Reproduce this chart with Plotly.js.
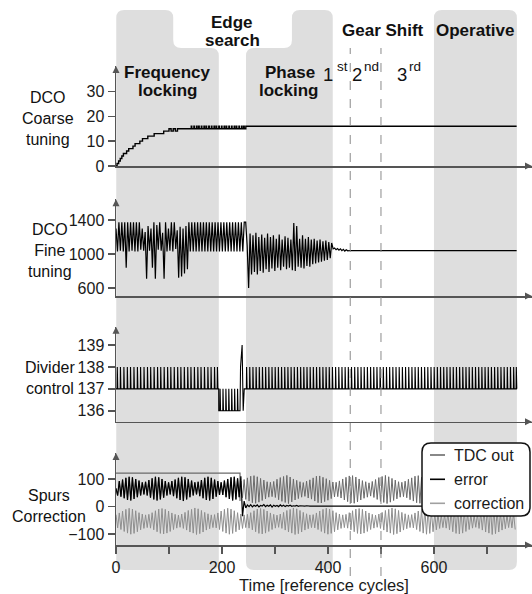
<!DOCTYPE html>
<html><head><meta charset="utf-8">
<script src="https://cdn.plot.ly/plotly-3.0.1.min.js"></script>
<style>html,body{margin:0;padding:0;background:#fff}#chart{width:532px;height:594px}</style>
</head><body><div id="chart"></div>
<script>
// ---------------- DATA ----------------
// Panel 1: DCO coarse tuning (staircase)
const coarseX = [0,2,5,8,11,14,17,20,24,28,32,36,40,45,50,55,60,66,72,78,84,90,96,100,104,108,112,116,120,126,245,756];
const coarseY = [0,1,2,3,4,5,5,6,7,7,8,9,9,10,11,11,12,12,13,13,13,14,14,15,14,15,14,15,15,15,16,16];
const coarseSpikeX = [142,147,152,156,161,166,170,175,180,185,189,194,199,204,208,213,218,223,227,232,237,241];

// Panel 2: DCO fine tuning, sampled every fineStep cycles
const fineStep = 2.75;
const fineVals = [
 1300,1030,1375,1040,1375,1030,1375,840,1375,1030,
 1375,1040,1375,1030,1375,1030,1375,1050,1300,1040,
 1260,710,1330,1040,1300,840,1375,710,1340,1050,
 1375,1040,1250,710,1375,1030,1300,1040,1375,1030,
 1375,1060,1280,720,1320,735,1300,770,1330,820,
 1375,1030,1375,1030,1375,1030,1375,1030,1375,1030,
 1375,1030,1375,1030,1375,1030,1375,1030,1375,1030,
 1375,1030,1375,1030,1375,1030,1375,1030,1375,1030,
 1375,1030,1375,1030,1375,1030,1375,1030,1375,1375,
 1100,600,1240,760,1220,790,1250,760,1200,800,
 1230,780,1190,820,1240,790,1200,830,1220,800,
 1180,840,1230,810,1170,850,1210,820,1190,840,
 1170,810,1365,800,1330,850,1180,840,1220,830,
 1180,860,1200,850,1170,880,1180,890,1160,900,
 1170,910,1150,920,1160,930,1140,950,1130,1060,
 1070,1050,1065,1045,1060,1040,1055,1035,1050,1038,
 1040];
const fineTailX = [756];
const fineTailY = [1040];

// Panel 3: divider control (pulse trains: baseline -> peak)
const divSpikeA = [2,8,14.5,21,27,33.5,40,46,52.5,59,65,71.5,78,84,90.5,97,103,109.5,116,122,128.5,135,141,147.5,154,160,166.5,173,179,185.5,191];
const divBaseA = 137, divPeakA = 138;
const divSpikeB = [196,201.5,207,212.5,218,223.5,229];
const divBaseB = 136, divPeakB = 137;
const divEventX = [234,235,238,240,242];
const divEventY = [136,138,139,136,137];
const divSpikeC = [246,252,258,264,270,276,282,288,294,300,306,312,318,324,330,336,342,348,354,360,366,372,378,384,390,396,402,408,414,420,426,432,438,444,450,456,462,468,474,480,486,492,498,504,510,516,522,528,534,540,546,552,558,564,570,576,582,588,594,600,606,612,618,624,630,636,642,648,654,660,666,672,678,684,690,696,702,708,714,720,726,732,738,744,750,755];
const divBaseC = 137, divPeakC = 138;

// Panel 4: spurs correction, sampled every spursStep cycles
const spursStep = 3.1;
const tdcVals = [
 66,40,92,36,98,30,104,24,108,22,106,28,100,34,94,40,88,44,90,40,
 96,32,102,26,108,22,106,26,100,32,92,40,88,44,92,38,98,30,104,24,
 108,20,106,26,100,34,94,40,88,44,90,38,96,30,104,24,108,22,104,28,
 98,36,92,42,88,42,94,34,100,28,106,22,108,26,102,34,
 92,32,98,26,104,20,110,14,112,12,108,16,102,22,96,28,90,34,88,36,
 91,33,99,25,105,19,109,15,113,11,107,17,100,24,95,29,90,34,87,37,
 92,31,97,27,104,20,110,14,111,13,106,18,101,23,95,29,89,35,88,36,
 93,31,100,24,106,18,111,13,112,12,107,17,100,24,94,30,90,34,86,38,
 91,33,98,26,105,19,109,15,113,11,108,16,102,22,96,28,90,34,88,36,
 92,32,99,25,104,20,110,14,112,12,106,18,101,23,95,29,89,35,87,37,
 93,31,98,26,105,19,111,13,112,12,107,17,100,24,94,30,90,34,88,36,
 91,33,97,27,104,20,110,14,113,11,108,16,102,22,96,28,90,34,87,37,
 92,32,99,25,105,19,110,14];
const errLockedVals = [110,-35,20,-5,6,0,7,-1,5,1,6,-1,4,2,7,0,5,1,6,-2,5,1,4,0,6,1,5,0,4,2,5,1,3,2,4,1,3,2,3,2,3,2];
const errTailX = [366,756];
const errTailY = [2,2];
const corrVals = [
 -29,-77,-23,-83,-16,-90,-10,-96,-6,-100,-9,-97,-15,-91,-22,-84,-27,-79,-30,-76,
 -28,-78,-22,-84,-15,-91,-9,-97,-7,-99,-10,-96,-16,-90,-23,-83,-28,-78,-31,-75,
 -27,-79,-21,-85,-14,-92,-10,-96,-5,-101,-8,-98,-14,-92,-21,-85,-26,-80,-30,-76,
 -29,-77,-23,-83,-16,-90,-10,-96,-6,-100,-9,-97,-15,-91,-22,-84,-27,-79,-30,-76,
 -28,-78,-22,-84,-15,-91,-9,-97,-7,-99,-10,-96,-16,-90,-23,-83,-28,-78,-31,-75,
 -27,-79,-21,-85,-14,-92,-10,-96,-5,-101,-8,-98,-14,-92,-21,-85,-26,-80,-30,-76,
 -29,-77,-23,-83,-16,-90,-10,-96,-6,-100,-9,-97,-15,-91,-22,-84,-27,-79,-30,-76,
 -28,-78,-22,-84,-15,-91,-9,-97,-7,-99,-10,-96,-16,-90,-23,-83,-28,-78,-31,-75,
 -27,-79,-21,-85,-14,-92,-10,-96,-5,-101,-8,-98,-14,-92,-21,-85,-26,-80,-30,-76,
 -29,-77,-23,-83,-16,-90,-10,-96,-6,-100,-9,-97,-15,-91,-22,-84,-27,-79,-30,-76,
 -28,-78,-22,-84,-15,-91,-9,-97,-7,-99,-10,-96,-16,-90,-23,-83,-28,-78,-31,-75,
 -27,-79,-21,-85,-14,-92,-10,-96,-5,-101,-8,-98,-14,-92,-21,-85,-26,-80,-30,-76,
 -29,-77,-23,-83];
const tdcRangeX = [0,234,234];
const tdcRangeY = [121,121,20];
const errorSharedCount = 76; // before phase locking, error equals TDC output

const legendNames = ['TDC out','error','correction'];
const xTickVals = [0,200,400,600];
const xMinorTickVals = [100,300,500,700];
const gearNums = ['1','2','3'];
const gearSups = ['st','nd','rd'];

// ---------------- BUILD ----------------
const F = 'Liberation Sans, Arial, Helvetica, sans-serif';
const H = 545, L = 116, W = 416;
const px = x => (x - L) / W;
const py = y => (H - y) / H;

// coarse
let cPts = coarseX.map((x,i)=>[x, coarseY[i]]);
coarseSpikeX.forEach(s=>{cPts.push([s,16]); cPts.push([s+1,15]);});
cPts.sort((a,b)=>a[0]-b[0]);
const coarseTrace = {x:cPts.map(p=>p[0]), y:cPts.map(p=>p[1]), xaxis:'x', yaxis:'y', type:'scatter', mode:'lines',
  line:{color:'#000', width:1.4, shape:'hv'}, name:'DCO coarse tuning', showlegend:false};

// fine
const fineX = fineVals.map((v,i)=>i*fineStep).concat(fineTailX);
const fineY = fineVals.concat(fineTailY);
const fineTrace = {x:fineX, y:fineY, xaxis:'x2', yaxis:'y2', type:'scatter', mode:'lines',
  line:{color:'#000', width:1.2}, name:'DCO fine tuning', showlegend:false};

// divider
let dX=[0], dY=[divBaseA];
function addSpikes(list, base, peak){ list.forEach(s=>{ dX.push(s, s+0.4, s+1.3); dY.push(base, peak, base); }); }
addSpikes(divSpikeA, divBaseA, divPeakA);
dX.push(193.8, 193.9); dY.push(divBaseA, divBaseB);
addSpikes(divSpikeB, divBaseB, divPeakB);
divEventX.forEach((x,i)=>{dX.push(x); dY.push(divEventY[i]);});
addSpikes(divSpikeC, divBaseC, divPeakC);
dX.push(756.5); dY.push(divBaseC);
const divTrace = {x:dX, y:dY, xaxis:'x3', yaxis:'y3', type:'scatter', mode:'lines',
  line:{color:'#000', width:1.1}, name:'Divider control', showlegend:false};

// spurs
const tdcX = tdcVals.map((v,i)=>i*spursStep);
const corrX = corrVals.map((v,i)=>i*spursStep);
const errVals = tdcVals.slice(0, errorSharedCount).concat(errLockedVals);
const errX = errVals.map((v,i)=>i*spursStep).concat(errTailX);
const errY = errVals.concat(errTailY);
const colTDC = '#6a6a6a', colCorr = '#8e8e8e';
const tdcTrace = {x:tdcX, y:tdcVals, xaxis:'x4', yaxis:'y4', type:'scatter', mode:'lines', line:{color:colTDC, width:1}, name:legendNames[0], showlegend:false};
const tdcRangeTrace = {x:tdcRangeX, y:tdcRangeY, xaxis:'x4', yaxis:'y4', type:'scatter', mode:'lines', line:{color:colTDC, width:1.2}, showlegend:false, hoverinfo:'skip'};
const corrTrace = {x:corrX, y:corrVals, xaxis:'x4', yaxis:'y4', type:'scatter', mode:'lines', line:{color:colCorr, width:1}, name:legendNames[2], showlegend:false};
const errTrace = {x:errX, y:errY, xaxis:'x4', yaxis:'y4', type:'scatter', mode:'lines', line:{color:'#000', width:1.2}, name:legendNames[1], showlegend:false};

const axLine = {showline:true, linecolor:'#555', linewidth:1.5, showgrid:false, zeroline:false, fixedrange:true,
  tickfont:{family:F, size:16, color:'#1a1a1a'}, ticks:'outside', ticklen:7, tickwidth:1.5, tickcolor:'#555'};
const xr = [0,785];
const yR = [[0,40.2],[506,1644],[135.5,139.84],[-139,194]];
const yDom = [[py(166), py(66)], [py(296), py(199.3)], [py(421.7), py(326.7)], [0, py(453)]];

const layout = {
  width:532, height:594, margin:{l:L, r:0, t:0, b:49},
  paper_bgcolor:'#fff', plot_bgcolor:'rgba(0,0,0,0)', showlegend:false,
  font:{family:F, color:'#1a1a1a'},
  xaxis: Object.assign({}, axLine, {domain:[0,1], range:xr, anchor:'y', ticks:'', showticklabels:false}),
  xaxis2: Object.assign({}, axLine, {domain:[0,1], range:xr, anchor:'y2', ticks:'', showticklabels:false, matches:'x'}),
  xaxis3: Object.assign({}, axLine, {domain:[0,1], range:xr, anchor:'y3', ticks:'', showticklabels:false, matches:'x'}),
  xaxis4: Object.assign({}, axLine, {domain:[0,1], range:xr, anchor:'y4', matches:'x', tickmode:'array', tickvals:xTickVals,
     minor:{tickmode:'array', tickvals:xMinorTickVals, ticks:'outside', ticklen:7, tickwidth:1.5, tickcolor:'#555', showgrid:false},
     title:{text:'Time [reference cycles]', font:{family:F, size:16.5, color:'#1a1a1a'}, standoff:4}}),
  yaxis: Object.assign({}, axLine, {domain:yDom[0], range:yR[0], anchor:'x', tickvals:[0,10,20,30]}),
  yaxis2: Object.assign({}, axLine, {domain:yDom[1], range:yR[1], anchor:'x2', tickvals:[600,1000,1400]}),
  yaxis3: Object.assign({}, axLine, {domain:yDom[2], range:yR[2], anchor:'x3', tickvals:[136,137,138,139]}),
  yaxis4: Object.assign({}, axLine, {domain:yDom[3], range:yR[3], anchor:'x4', tickvals:[-100,0,100]}),
  shapes:[], annotations:[]
};

// gray phase regions (rounded)
const yt = py(10), ys = py(48), yb = py(570), rx = 15, ry = 8/H;
function f(v){return (+v).toFixed(5);}
function regionTallLeft(x0, xs, x2){
  return `M${f(x0)},${f(yb+ry)} L${f(x0)},${f(yt-ry)} Q${f(x0)},${f(yt)} ${f(x0+rx)},${f(yt)} L${f(xs-rx)},${f(yt)} Q${f(xs)},${f(yt)} ${f(xs)},${f(yt-ry)} L${f(xs)},${f(ys+ry)} Q${f(xs)},${f(ys)} ${f(xs+rx)},${f(ys)} L${f(x2-rx)},${f(ys)} Q${f(x2)},${f(ys)} ${f(x2)},${f(ys-ry)} L${f(x2)},${f(yb+ry)} Q${f(x2)},${f(yb)} ${f(x2-rx)},${f(yb)} L${f(x0+rx)},${f(yb)} Q${f(x0)},${f(yb)} ${f(x0)},${f(yb+ry)} Z`;
}
function regionTallRight(x0, xs, x2){
  return `M${f(x0)},${f(yb+ry)} L${f(x0)},${f(ys-ry)} Q${f(x0)},${f(ys)} ${f(x0+rx)},${f(ys)} L${f(xs-rx)},${f(ys)} Q${f(xs)},${f(ys)} ${f(xs)},${f(ys+ry)} L${f(xs)},${f(yt-ry)} Q${f(xs)},${f(yt)} ${f(xs+rx)},${f(yt)} L${f(x2-rx)},${f(yt)} Q${f(x2)},${f(yt)} ${f(x2)},${f(yt-ry)} L${f(x2)},${f(yb+ry)} Q${f(x2)},${f(yb)} ${f(x2-rx)},${f(yb)} L${f(x0+rx)},${f(yb)} Q${f(x0)},${f(yb)} ${f(x0)},${f(yb+ry)} Z`;
}
function regionRect(x0, x2){
  return `M${f(x0)},${f(yb+ry)} L${f(x0)},${f(yt-ry)} Q${f(x0)},${f(yt)} ${f(x0+rx)},${f(yt)} L${f(x2-rx)},${f(yt)} Q${f(x2)},${f(yt)} ${f(x2)},${f(yt-ry)} L${f(x2)},${f(yb+ry)} Q${f(x2)},${f(yb)} ${f(x2-rx)},${f(yb)} L${f(x0+rx)},${f(yb)} Q${f(x0)},${f(yb)} ${f(x0)},${f(yb+ry)} Z`;
}
const gray = '#dedede';
[regionTallLeft(0.5,108,194), regionTallRight(245.3,332,409), regionRect(600,756.5)].forEach(p=>{
  layout.shapes.push({type:'path', path:p, xref:'x', yref:'paper', fillcolor:gray, line:{width:0}, layer:'below'});
});
// gear-shift dashed lines
[442,500].forEach(x=>layout.shapes.push({type:'line', xref:'x', yref:'paper', x0:x, x1:x, y0:py(576), y1:py(48),
  line:{color:'#8a8a8a', width:1, dash:'dash'}, layer:'above'}));

// axis arrowheads (pixel-sized triangles)
['','2','3','4'].forEach((k,i)=>{
  layout.shapes.push({type:'path', xref:'x', yref:'paper', xsizemode:'pixel', ysizemode:'pixel',
    xanchor:785, yanchor:yDom[i][0], path:'M0,0 L-7,3.5 L-7,-3.5 Z', fillcolor:'#555', line:{width:0}, layer:'above'});
  layout.shapes.push({type:'path', xref:'paper', yref:'y'+k, xsizemode:'pixel', ysizemode:'pixel',
    xanchor:0, yanchor:yR[i][1], path:'M-3.5,-7 L3.5,-7 L0,0 Z', fillcolor:'#555', line:{width:0}, layer:'above'});
});

// legend box (rounded)
(function(){
  const x0=px(422), x1=px(530), y0=py(516), y1=py(443), rX=9/W, rY=9/H;
  const p=`M${f(x0)},${f(y0+rY)} L${f(x0)},${f(y1-rY)} Q${f(x0)},${f(y1)} ${f(x0+rX)},${f(y1)} L${f(x1-rX)},${f(y1)} Q${f(x1)},${f(y1)} ${f(x1)},${f(y1-rY)} L${f(x1)},${f(y0+rY)} Q${f(x1)},${f(y0)} ${f(x1-rX)},${f(y0)} L${f(x0+rX)},${f(y0)} Q${f(x0)},${f(y0)} ${f(x0)},${f(y0+rY)} Z`;
  layout.shapes.push({type:'path', path:p, xref:'paper', yref:'paper', fillcolor:'#fff', line:{color:'#111', width:1.5}, layer:'above'});
  const cols=[colTDC,'#000','#a0a0a0'], rows=[455,479.3,503.3];
  legendNames.forEach((n,i)=>{
    layout.shapes.push({type:'line', xref:'paper', yref:'paper', x0:px(430), x1:px(445), y0:py(rows[i]), y1:py(rows[i]), line:{color:cols[i], width:1.6}, layer:'above'});
    layout.annotations.push({xref:'paper', yref:'paper', x:px(452), y:py(rows[i]), xanchor:'left', yanchor:'middle', text:n, showarrow:false, font:{family:F, size:16, color:'#1a1a1a'}});
  });
})();

// texts
function ann(text, x, y, size, bold, extra){
  layout.annotations.push(Object.assign({xref:'paper', yref:'paper', x:px(x), y:py(y), xanchor:'center', yanchor:'middle',
    text: bold ? '<b>'+text+'</b>' : text, showarrow:false, font:{family:F, size:size, color:'#111'}}, extra||{}));
}
ann('Frequency', 167.5, 72, 17, true);
ann('locking', 167.5, 91, 17, true);
ann('Edge', 232, 22, 17, true);
ann('search', 232, 40, 17, true);
ann('Phase', 289.5, 72, 17, true);
ann('locking', 289, 91, 17, true);
ann('Gear Shift', 383, 31, 17, true);
ann('Operative', 475, 31, 17, true);
// gear-shift ordinals: digit + raised suffix
const numX = [328.3, 356.7, 401.7], supX = [334.5, 362, 407];
gearNums.forEach((n,i)=>{
  ann(n, numX[i], 74, 18.5, false);
  ann(gearSups[i], supX[i], 66.5, 13.5, false, {xanchor:'left'});
});
ann('DCO<br>Coarse<br>tuning', 48, 119, 16, false, {align:'center'});
ann('DCO<br>Fine<br>tuning', 50, 251, 16, false, {align:'center'});
ann('Divider<br>control', 49.5, 378, 16, false, {align:'center'});
ann('Spurs<br>Correction', 49, 506, 16, false, {align:'center'});

Plotly.newPlot('chart', [coarseTrace, fineTrace, divTrace, tdcTrace, tdcRangeTrace, corrTrace, errTrace], layout, {staticPlot:true});
</script></body></html>
